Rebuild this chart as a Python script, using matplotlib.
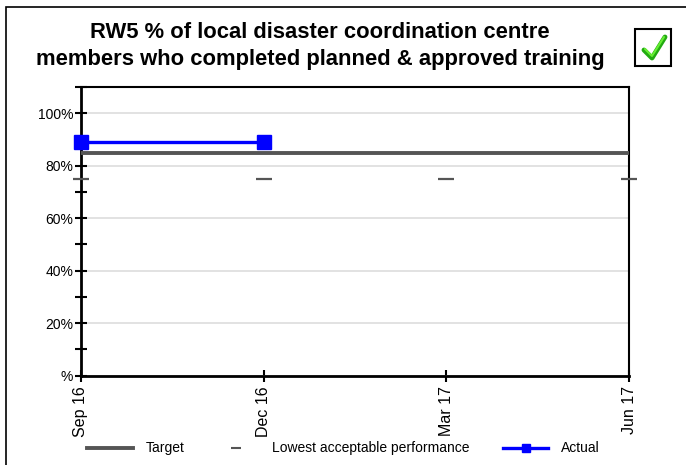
import matplotlib
matplotlib.use("Agg")
import matplotlib.pyplot as plt
from matplotlib.patches import Rectangle
from matplotlib.lines import Line2D

plt.rcParams['font.family'] = ['Liberation Sans', 'DejaVu Sans']

# Data
periods = ["Sep 16", "Dec 16", "Mar 17", "Jun 17"]
target = [85, 85, 85, 85]
lowest_acceptable = [75, 75, 75, 75]
actual = [88.9, 88.9]
y_major = [0, 20, 40, 60, 80, 100]
y_major_labels = ["%", "20%", "40%", "60%", "80%", "100%"]
y_minor = [10, 30, 50, 70, 90, 110]
title = "RW5 % of local disaster coordination centre\nmembers who completed planned & approved training"

W, H = 686, 465
fig = plt.figure(figsize=(W / 100, H / 100), dpi=100)

def fx(px):
    return px / W

def fy(py):
    return 1 - py / H

# outer border
fig.patches.append(Rectangle((fx(6), fy(470)), fx(700) - fx(6), fy(7) - fy(470),
                             transform=fig.transFigure, fill=False, ec='black', lw=1.2))

ax = fig.add_axes([fx(81), fy(375.7), fx(629) - fx(81), fy(87) - fy(375.7)])
x = list(range(len(periods)))

ax.set_xlim(0, 3)
ax.set_ylim(0, 110)

ax.set_yticks(y_major)
ax.set_yticklabels(y_major_labels)
ax.set_yticks(y_minor, minor=True)
ax.yaxis.grid(True, which='major', color='#dddddd', lw=1.2)
ax.set_axisbelow(True)

ax.set_xticks(x)
ax.set_xticklabels(periods, rotation=90)

ax.tick_params(axis='both', which='both', direction='inout', length=9, width=1.5,
               labelsize=10, color='black', pad=2)
ax.tick_params(axis='y', which='major', pad=1)
ax.tick_params(axis='x', which='major', labelsize=11.5, pad=3)

for s in ['left', 'bottom']:
    ax.spines[s].set_linewidth(2)
for s in ['top', 'right']:
    ax.spines[s].set_linewidth(1.5)

ax.plot(x, target, color='#555555', lw=2.8, solid_capstyle='butt', clip_on=False, zorder=3)
ax.plot(x, lowest_acceptable, linestyle='none', marker='_', markersize=11,
        mew=1.6, color='#555555', clip_on=False, zorder=3)
ax.plot(x[:len(actual)], actual, color='#0000ff', lw=2.4, marker='s', markersize=10,
        clip_on=False, zorder=4)

fig.text(fx(320), fy(46), title, ha='center', va='center', fontsize=15.8,
         fontweight='bold', linespacing=1.35)

# legend
ly = fy(448)
fig.lines.append(Line2D([fx(87), fx(133)], [ly, ly], transform=fig.transFigure,
                        color='#555555', lw=2.8))
fig.text(fx(146), ly, "Target", fontsize=10, va='center')
fig.lines.append(Line2D([fx(235.5)], [ly], transform=fig.transFigure, marker='_',
                        markersize=7, mew=1.5, color='#555555', linestyle='none'))
fig.text(fx(272), ly, "Lowest acceptable performance", fontsize=10, va='center')
fig.lines.append(Line2D([fx(503), fx(548)], [ly, ly], transform=fig.transFigure,
                        color='#0000ff', lw=2.4))
fig.lines.append(Line2D([fx(525.5)], [ly], transform=fig.transFigure, marker='s',
                        markersize=6, color='#0000ff', linestyle='none'))
fig.text(fx(561), ly, "Actual", fontsize=10, va='center')

# check box
fig.patches.append(Rectangle((fx(635), fy(66)), fx(671) - fx(635), fy(29) - fy(66),
                             transform=fig.transFigure, fill=True, fc='white',
                             ec='black', lw=1.5))
fig.lines.append(Line2D([fx(644), fx(652), fx(665)], [fy(50), fy(58), fy(37)],
                        transform=fig.transFigure, color='#22aa11', lw=3.5,
                        solid_capstyle='round', solid_joinstyle='round'))
fig.lines.append(Line2D([fx(645), fx(652), fx(664)], [fy(49), fy(56), fy(37)],
                        transform=fig.transFigure, color='#66ee33', lw=1.5,
                        solid_capstyle='round', solid_joinstyle='round'))

fig.savefig("out.png", dpi=100)
